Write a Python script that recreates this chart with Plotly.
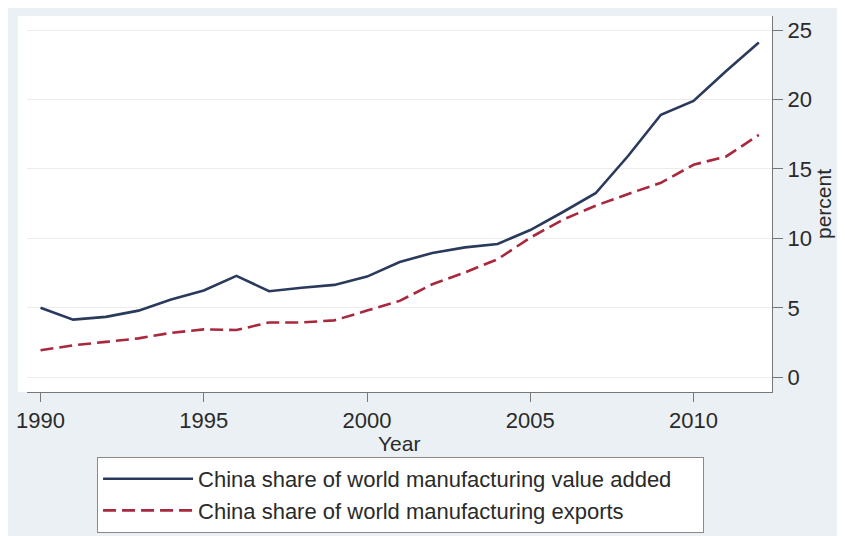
import plotly.graph_objects as go

years = list(range(1990, 2013))
value_added = [5.0, 4.15, 4.35, 4.8, 5.6, 6.25, 7.3, 6.2, 6.45, 6.65, 7.25, 8.3,
               8.95, 9.35, 9.6, 10.6, 11.9, 13.25, 15.95, 18.9, 19.9, 22.05, 24.1]
exports = [1.95, 2.3, 2.55, 2.8, 3.2, 3.45, 3.4, 3.95, 3.95, 4.1, 4.8, 5.5,
           6.7, 7.55, 8.5, 10.05, 11.35, 12.35, 13.2, 14.0, 15.3, 15.9, 17.45]
names = ["China share of world manufacturing value added",
         "China share of world manufacturing exports"]
x_ticks = [1990, 1995, 2000, 2005, 2010]
y_ticks = [0, 5, 10, 15, 20, 25]

# page body has an 8px margin, so figure coords = reference coords - 8
W, H = 829, 528
L, R, T, B = 15, 59, 8, 144
pw, ph = W - L - R, H - T - B

def fx(px):
    return (px - L) / pw

def fy(py):
    return (H - B - py) / ph

fig = go.Figure()
fig.add_trace(go.Scatter(x=years, y=value_added, mode="lines", name=names[0],
                         line=dict(color="#2a3a5c", width=2.6)))
fig.add_trace(go.Scatter(x=years, y=exports, mode="lines", name=names[1],
                         line=dict(color="#a8283d", width=2.6, dash="13px,6px")))

font = "Liberation Sans, Arial, sans-serif"
fig.update_layout(
    width=W, height=H,
    margin=dict(l=L, r=R, t=T, b=B),
    paper_bgcolor="#eaf0f3",
    plot_bgcolor="white",
    font=dict(family=font, size=22, color="#2a2a2a"),
    showlegend=True,
    legend=dict(x=fx(86), xanchor="left",
                y=3.0 / H, yref="container", yanchor="bottom",
                orientation="h",
                bgcolor="white", bordercolor="#8a8a8a", borderwidth=1,
                font=dict(size=22, color="#2a2a2a"), itemwidth=90,
                entrywidth=500, entrywidthmode="pixels",
                tracegroupgap=0),
    shapes=[
        dict(type="rect", xref="paper", yref="paper", layer="below",
             x0=fx(6), x1=fx(L + pw), y0=fy(H - B), y1=fy(T),
             fillcolor="white", line=dict(width=0)),
    ],
    annotations=[
        dict(text="Year", xref="paper", yref="paper", x=fx(392), y=fy(422),
             xanchor="center", yanchor="top", showarrow=False,
             font=dict(size=21, color="#2a2a2a")),
    ],
    xaxis=dict(range=[1989.586, 2012.403], tickvals=x_ticks,
               ticks="outside", ticklen=9, tickcolor="#777", tickwidth=1,
               showline=True, linecolor="#777", linewidth=1,
               showgrid=False, zeroline=False,
               tickfont=dict(size=22)),
    yaxis=dict(range=[-1.058, 26.008], tickvals=y_ticks, side="right",
               ticks="outside", ticklen=10, tickcolor="#777", tickwidth=1,
               showline=True, linecolor="#777", linewidth=1,
               showgrid=True, gridcolor="#ececec", gridwidth=1,
               zeroline=False, tickfont=dict(size=22),
               title=dict(text="percent", font=dict(size=21), standoff=2)),
)

fig.write_html("out.html")
